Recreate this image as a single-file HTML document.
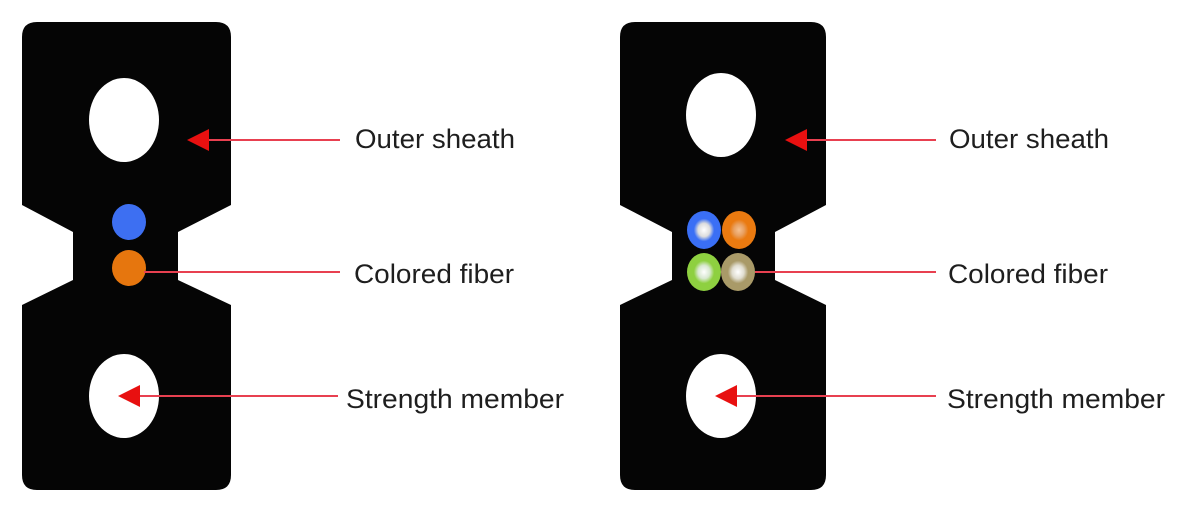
<!DOCTYPE html>
<html><head><meta charset="utf-8"><style>
html,body{margin:0;padding:0;background:#fff;}
svg{display:block;}
text{font-family:"Liberation Sans",sans-serif;font-size:27px;fill:#1e1e1e;}
</style></head><body>
<svg width="1194" height="509" viewBox="0 0 1194 509">
<defs>
<radialGradient id="g1"><stop offset="0" stop-color="#fff"/><stop offset="0.35" stop-color="#ddd"/><stop offset="0.6" stop-color="#3a6ff5"/><stop offset="1" stop-color="#3a6ff5"/></radialGradient>
<radialGradient id="g2"><stop offset="0" stop-color="#f5c090"/><stop offset="0.3" stop-color="#e9a060"/><stop offset="0.55" stop-color="#ea7a10"/><stop offset="1" stop-color="#ea7a10"/></radialGradient>
<radialGradient id="g3"><stop offset="0" stop-color="#fff"/><stop offset="0.35" stop-color="#d8e8d0"/><stop offset="0.6" stop-color="#8ed040"/><stop offset="1" stop-color="#8ed040"/></radialGradient>
<radialGradient id="g4"><stop offset="0" stop-color="#fff"/><stop offset="0.35" stop-color="#e0ddd0"/><stop offset="0.6" stop-color="#a99a68"/><stop offset="1" stop-color="#a99a68"/></radialGradient>
</defs>
<path d="M37,22 H216 Q231,22 231,37 V205 L178,232 V280 L231,305 V475 Q231,490 216,490 H37 Q22,490 22,475 V305 L73,280 V232 L22,205 V37 Q22,22 37,22 Z" fill="#050505"/>
<ellipse cx="124" cy="120" rx="35" ry="42" fill="#fff"/>
<ellipse cx="124" cy="396" rx="35" ry="42" fill="#fff"/>
<ellipse cx="129" cy="222" rx="17" ry="18" fill="#3d6ff2"/>
<ellipse cx="129" cy="268" rx="17" ry="18" fill="#e6760e"/>
<line x1="198" y1="140" x2="340" y2="140" stroke="#e84050" stroke-width="2"/>
<polygon points="187,140 209,129 209,151" fill="#e81010"/>
<line x1="144" y1="272" x2="340" y2="272" stroke="#e84050" stroke-width="2"/>
<line x1="128" y1="396" x2="338" y2="396" stroke="#e84050" stroke-width="2"/>
<polygon points="118,396 140,385 140,407" fill="#e81010"/>
<text x="355" y="148" textLength="160" lengthAdjust="spacingAndGlyphs">Outer sheath</text>
<text x="354" y="283" textLength="160" lengthAdjust="spacingAndGlyphs">Colored fiber</text>
<text x="346" y="408" textLength="218" lengthAdjust="spacingAndGlyphs">Strength member</text>
<path d="M635,22 H811 Q826,22 826,37 V205 L775,232 V280 L826,305 V475 Q826,490 811,490 H635 Q620,490 620,475 V305 L672,280 V232 L620,205 V37 Q620,22 635,22 Z" fill="#050505"/>
<ellipse cx="721" cy="115" rx="35" ry="42" fill="#fff"/>
<ellipse cx="721" cy="396" rx="35" ry="42" fill="#fff"/>
<ellipse cx="704" cy="230" rx="17" ry="19" fill="url(#g1)"/>
<ellipse cx="739" cy="230" rx="17" ry="19" fill="url(#g2)"/>
<ellipse cx="704" cy="272" rx="17" ry="19" fill="url(#g3)"/>
<ellipse cx="738" cy="272" rx="17" ry="19" fill="url(#g4)"/>
<line x1="796" y1="140" x2="936" y2="140" stroke="#e84050" stroke-width="2"/>
<polygon points="785,140 807,129 807,151" fill="#e81010"/>
<line x1="755" y1="272" x2="936" y2="272" stroke="#e84050" stroke-width="2"/>
<line x1="725" y1="396" x2="936" y2="396" stroke="#e84050" stroke-width="2"/>
<polygon points="715,396 737,385 737,407" fill="#e81010"/>
<text x="949" y="148" textLength="160" lengthAdjust="spacingAndGlyphs">Outer sheath</text>
<text x="948" y="283" textLength="160" lengthAdjust="spacingAndGlyphs">Colored fiber</text>
<text x="947" y="408" textLength="218" lengthAdjust="spacingAndGlyphs">Strength member</text>
</svg>
</body></html>
